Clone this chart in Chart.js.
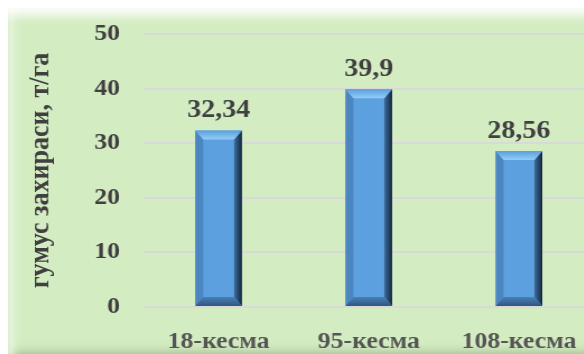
<!DOCTYPE html>
<html>
<head>
<meta charset="utf-8">
<script src="https://cdn.jsdelivr.net/npm/chart.js@4"></script>
<style>
  html, body { margin: 0; padding: 0; background: #fff; overflow: hidden; width: 584px; height: 354px; }
  .panel {
    position: absolute; left: 8px; top: 8px; width: 600px; height: 360px;
    background: #d4ecc2;
    box-shadow:
      inset 0 16px 10px -8px rgba(255, 255, 255, 0.85),
      inset 14px 0 10px -8px rgba(235, 248, 225, 0.9),
      inset 3px 0 2px -1px rgba(150, 175, 130, 0.6),
      inset 0 -26px 12px -12px rgba(90, 120, 70, 0.55);
  }
  .stretch {
    position: absolute; left: 8px; top: 8px; width: 529px; height: 346px;
    transform: scaleX(1.12); transform-origin: 0 0;
  }
</style>
</head>
<body>
<div class="panel"></div>
<div class="stretch"><canvas id="humus-chart"></canvas></div>
<script>
const categories = ['18-кесма', '95-кесма', '108-кесма'];
const humusData = [32.34, 39.9, 28.56];
const valueLabels = ['32,34', '39,9', '28,56'];
const yTicks = [0, 10, 20, 30, 40, 50];

const serif = 'Liberation Serif, DejaVu Serif, serif';

// bevelled bars + value labels on top
const bevelBars = {
  id: 'bevelBars',
  afterDatasetsDraw(chart) {
    const ctx = chart.ctx;
    const meta = chart.getDatasetMeta(0);
    meta.data.forEach((bar, i) => {
      const w = bar.width;
      const l = bar.x - w / 2;
      const r = bar.x + w / 2;
      const t = bar.y;
      const b = bar.base;
      const bx = 7;
      const by = 9;
      ctx.save();

      // right dark strip
      let g = ctx.createLinearGradient(r - bx, 0, r, 0);
      g.addColorStop(0, '#3d6d9e');
      g.addColorStop(1, '#14263b');
      ctx.fillStyle = g;
      ctx.beginPath();
      ctx.moveTo(r - bx, t + by);
      ctx.lineTo(r, t);
      ctx.lineTo(r, b);
      ctx.lineTo(r - bx, b - by);
      ctx.closePath();
      ctx.fill();

      // left strip
      ctx.fillStyle = '#4c86c1';
      ctx.beginPath();
      ctx.moveTo(l, t);
      ctx.lineTo(l + bx, t + by);
      ctx.lineTo(l + bx, b - by);
      ctx.lineTo(l, b);
      ctx.closePath();
      ctx.fill();

      // top bevel
      g = ctx.createLinearGradient(0, t, 0, t + by);
      g.addColorStop(0, '#5c9fdc');
      g.addColorStop(1, '#92cdf6');
      ctx.fillStyle = g;
      ctx.beginPath();
      ctx.moveTo(l, t);
      ctx.lineTo(r, t);
      ctx.lineTo(r - bx, t + by);
      ctx.lineTo(l + bx, t + by);
      ctx.closePath();
      ctx.fill();

      // bottom bevel
      g = ctx.createLinearGradient(0, b - by, 0, b);
      g.addColorStop(0, '#4a80b8');
      g.addColorStop(1, '#2f5680');
      ctx.fillStyle = g;
      ctx.beginPath();
      ctx.moveTo(l, b);
      ctx.lineTo(l + bx, b - by);
      ctx.lineTo(r - bx, b - by);
      ctx.lineTo(r, b);
      ctx.closePath();
      ctx.fill();

      // value label
      ctx.fillStyle = '#404040';
      ctx.font = 'bold 25px ' + serif;
      ctx.textAlign = 'center';
      ctx.textBaseline = 'middle';
      ctx.fillText(valueLabels[i], bar.x, t - 20);
      ctx.restore();
    });
  },
};

const ctx = document.getElementById('humus-chart').getContext('2d');

const config = {
  type: 'bar',
  data: {
    labels: categories,
    datasets: [
      {
        data: humusData,
        backgroundColor: '#5ca0e0',
        borderWidth: 0,
        barPercentage: 0.31,
        categoryPercentage: 1,
      },
    ],
  },
  options: {
    responsive: true,
    maintainAspectRatio: false,
    animation: false,
    layout: {
      padding: { top: 26, right: 3, bottom: 0, left: 0 },
    },
    plugins: {
      legend: { display: false },
      tooltip: { enabled: false },
    },
    scales: {
      x: {
        grid: { display: false, drawTicks: false },
        border: { display: false },
        ticks: {
          padding: 21,
          font: { size: 23, weight: 'bold', family: serif },
          color: '#555555',
        },
        afterFit: (axis) => {
          axis.height = 47;
        },
      },
      y: {
        min: 0,
        max: 50,
        afterBuildTicks: (axis) => {
          axis.ticks = yTicks.map((v) => ({ value: v }));
        },
        grid: {
          color: '#d9d9d9',
          lineWidth: 2,
          drawTicks: true,
          tickLength: 21,
          tickColor: 'transparent',
        },
        border: { display: false },
        ticks: {
          padding: 0,
          font: { size: 23, weight: 'bold', family: serif },
          color: '#404040',
        },
        title: {
          display: true,
          text: 'гумус захираси, т/га',
          font: { size: 26, weight: 'bold', family: serif },
          color: '#404040',
          padding: { top: 14, bottom: 0 },
        },
        afterFit: (axis) => {
          axis.width = 121;
        },
      },
    },
  },
  plugins: [bevelBars],
};

new Chart(ctx, config);
</script>
</body>
</html>
